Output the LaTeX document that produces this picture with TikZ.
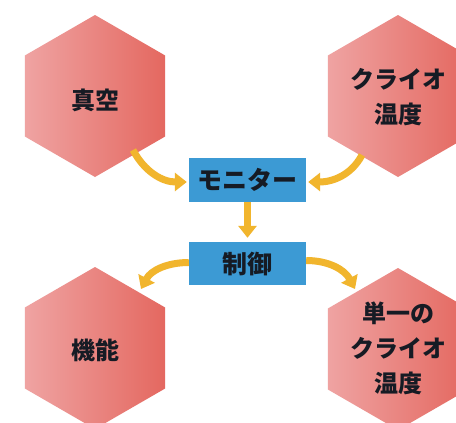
\documentclass[tikz,border=0pt]{standalone}
\usepackage{fontspec}
\newfontfamily\cjk{Noto Sans CJK JP}
\usetikzlibrary{arrows.meta}
\definecolor{hexL}{HTML}{EFA3A2}
\definecolor{hexR}{HTML}{E46860}
\definecolor{boxblue}{HTML}{3C9AD4}
\definecolor{inkc}{HTML}{161B24}
\definecolor{arrowc}{HTML}{F1B52D}
\tikzset{
  hexfill/.style={left color=hexL, right color=hexR},
  hextext/.style={font=\cjk\bfseries\fontsize{24}{35}\selectfont, text=inkc, align=center, inner sep=0pt},
  bluebox/.style={fill=boxblue, minimum width=117pt, minimum height=44pt, inner sep=0pt,
    font=\cjk\bfseries\fontsize{25}{30}\selectfont, text=inkc},
  flow/.style={draw=arrowc, line width=7pt, -{Triangle[length=12pt,width=18pt]}}
}
\newcommand{\hexagonat}[2]{%
  \shade[hexfill, shift={(#1,#2)}] (90:81) -- (30:81) -- (-30:81) -- (-90:81) -- (-150:81) -- (150:81) -- cycle;}
\begin{document}
\begin{tikzpicture}[x=1pt,y=1pt]
\path[use as bounding box] (0,0) rectangle (456,-423);
\clip (0,0) rectangle (456,-423);
\fill[white] (0,0) rectangle (456,-423);
% hexagons
\hexagonat{95}{-96}
\hexagonat{398}{-96}
\hexagonat{95}{-348}
\hexagonat{398}{-349}
\node[hextext] (vac) at (95,-100) {真空};
\node[hextext] (cryo) at (398,-97.5) {クライオ\\温度};
\node[hextext] (func) at (95,-350) {機能};
\node[hextext] (single) at (398,-348) {単一の\\クライオ\\温度};
% boxes
\node[bluebox] (mon) at (247.5,-180) {モニター};
\node[bluebox, minimum height=43pt] (ctl) at (247.5,-263.5) {制御};
% arrow end points
\coordinate (a1s) at (133,-150);
\coordinate (a2s) at (362,-155);
\coordinate (a4e) at (141,-289);
\coordinate (a5e) at (355,-289);
% arrows
\draw[flow] (a1s) to[out=-62,in=180] ([xshift=-2pt,yshift=-2pt]mon.west);
\draw[flow] (a2s) to[out=-118,in=0] ([xshift=2pt,yshift=-2pt]mon.east);
\draw[flow, shorten >=4pt] (mon.south) -- (ctl.north);
\draw[flow] ([yshift=1pt]ctl.west) to[out=180,in=62] (a4e);
\draw[flow] ([yshift=3pt]ctl.east) to[out=0,in=118] (a5e);
\end{tikzpicture}
\end{document}
